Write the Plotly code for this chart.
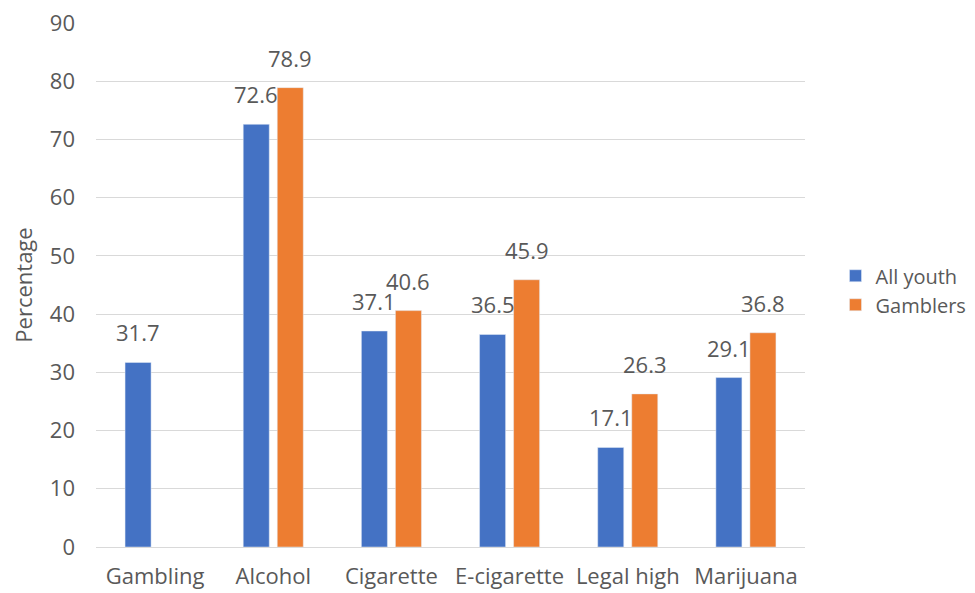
import plotly.graph_objects as go

categories = ["Gambling", "Alcohol", "Cigarette", "E-cigarette", "Legal high", "Marijuana"]
all_youth = [31.7, 72.6, 37.1, 36.5, 17.1, 29.1]
gamblers = [None, 78.9, 40.6, 45.9, 26.3, 36.8]
y_ticks = [0, 10, 20, 30, 40, 50, 60, 70, 80, 90]

FONT = "Open Sans, Liberation Sans, sans-serif"
TXT = "#595959"
SIZE = 22

fig = go.Figure()
fig.add_trace(go.Bar(name="All youth", x=categories, y=all_youth, marker_color="#4472C4"))
fig.add_trace(go.Bar(name="Gamblers", x=categories, y=gamblers, marker_color="#ED7D31"))

# data labels above the bars (offset left/right for the two grouped series)
for series, dx in ((all_youth, -17), (gamblers, 17)):
    for c, v in zip(categories, series):
        if v is None:
            continue
        fig.add_annotation(x=c, y=v, xref="x", yref="y", text=f"{v}",
                           showarrow=False, yanchor="bottom", xanchor="center",
                           xshift=dx, yshift=13,
                           font=dict(size=SIZE, color=TXT, family=FONT))

fig.update_layout(
    width=967, height=585,
    margin=dict(l=88, r=170, t=15, b=46, autoexpand=False),
    paper_bgcolor="white", plot_bgcolor="white",
    barmode="group", bargap=0.424, bargroupgap=0.235,
    font=dict(family=FONT, size=SIZE, color=TXT),
    legend=dict(x=1.043, y=0.49, xanchor="left", yanchor="middle",
                font=dict(size=20, color=TXT), itemwidth=30, tracegroupgap=0),
    xaxis=dict(showline=True, linecolor="#D9D9D9", linewidth=1, ticks="",
               automargin=False, ticklabelstandoff=10,
               tickfont=dict(size=SIZE, color=TXT)),
    yaxis=dict(range=[0, 90], tickvals=y_ticks, showgrid=True, gridcolor="#D9D9D9",
               gridwidth=1, zeroline=False, ticks="", ticklen=0,
               automargin=False, ticklabelstandoff=20, ticklabeloverflow="allow",
               tickfont=dict(size=SIZE, color=TXT),
               title=dict(text="Percentage", font=dict(size=SIZE, color=TXT), standoff=13)),
)

fig.write_html("out.html")
